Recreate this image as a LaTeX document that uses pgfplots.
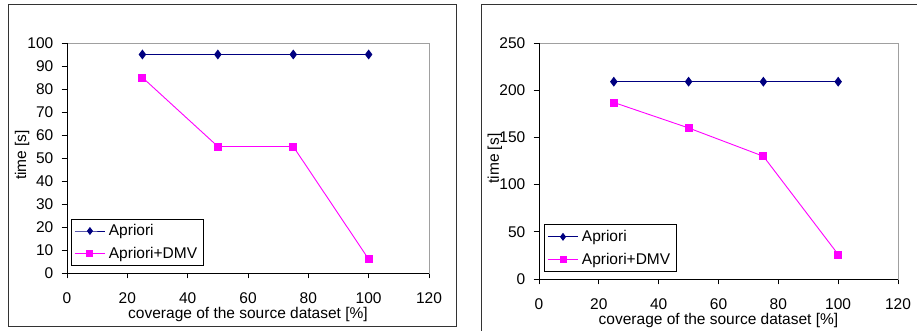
\documentclass[border=0pt]{standalone}
\usepackage{fontspec}
\setmainfont{Liberation Sans}
\usepackage{pgfplots}
\pgfplotsset{compat=1.18}
\definecolor{apri}{HTML}{000080}
\definecolor{dmv}{HTML}{FF00FF}
\definecolor{frm}{HTML}{A0A0A0}
\pgfplotsset{
 panel/.style={
  scale only axis,
  xmin=0,xmax=120, xtick={0,20,...,120},
  axis line style={draw=frm, line width=0.9pt},
  tick style={black, line width=0.9pt},
  major tick length=5.5pt,
  tick align=outside,
  xtick pos=bottom, ytick pos=left,
  font=\fontsize{15.5}{18}\selectfont,
  /pgf/number format/assume math mode=true,
  yticklabel style={anchor=east, inner sep=0pt, xshift=-8pt},
  xticklabel style={anchor=center, inner sep=0pt, yshift=-20pt},
  xlabel={coverage of the source dataset [\%]},
  ylabel={time [s]},
  every axis x label/.style={at={(axis description cs:0.5,0)}, anchor=center, inner sep=0pt, yshift=-41pt},
  legend cell align=left,
  legend style={draw=black, line width=1pt, fill=white, font=\fontsize{15.5}{18}\selectfont, inner xsep=3pt, inner ysep=2pt, row sep=3pt, nodes={inner sep=3.5pt}},
  legend image code/.code={\draw[mark repeat=2,mark phase=2,##1] plot coordinates {(0pt,0pt) (15pt,0pt) (30pt,0pt)};},
  extra description/.code={\draw[black, line width=0.9pt] (rel axis cs:0,1) -- (rel axis cs:0,0) -- (rel axis cs:1,0);},
 },
 apr/.style={color=apri, line width=1.2pt, mark=diamond*, mark size=4pt, mark options={solid},
   legend image post style={line width=0.9pt, mark size=3.3pt}},
 dm/.style={color=dmv, line width=0.9pt, mark=square*, mark size=3.5pt, mark options={solid},
   legend image post style={line width=0.9pt, mark size=3pt}},
}
\begin{document}
\begin{tikzpicture}
\useasboundingbox (0,0) rectangle (917pt,331pt);
\clip (0,0) rectangle (917pt,331pt);
\fill[white] (0,0) rectangle (917pt,331pt);
\draw[line width=1pt, black!80] (8pt,4pt) rectangle (456pt,326pt);
\draw[line width=1pt, black!80] (481pt,-10pt) rectangle (930pt,326pt);
\begin{axis}[panel, at={(67pt,58pt)}, anchor=south west, width=362pt, height=230pt,
  ymin=0, ymax=100, ytick={0,10,...,100},
  every axis y label/.style={at={(axis description cs:-0.124,0.513)}, rotate=90, anchor=center},
  legend style={at={(axis description cs:0.011,0.03)}, anchor=south west}]
\addplot[apr] coordinates {(25,95) (50,95) (75,95) (100,95)};
\addlegendentry{Apriori}
\addplot[dm] coordinates {(25,85) (50,55) (75,55) (100,6)};
\addlegendentry{Apriori+DMV}
\end{axis}
\begin{axis}[panel, at={(539pt,52pt)}, anchor=south west, width=359pt, height=236pt,
  ymin=0, ymax=250, ytick={0,50,...,250},
  every axis y label/.style={at={(axis description cs:-0.123,0.51)}, rotate=90, anchor=center},
  legend style={at={(axis description cs:0.014,0.03)}, anchor=south west}]
\addplot[apr] coordinates {(25,209) (50,209) (75,209) (100,209)};
\addlegendentry{Apriori}
\addplot[dm] coordinates {(25,187) (50,160) (75,130) (100,26)};
\addlegendentry{Apriori+DMV}
\end{axis}
\end{tikzpicture}
\end{document}
